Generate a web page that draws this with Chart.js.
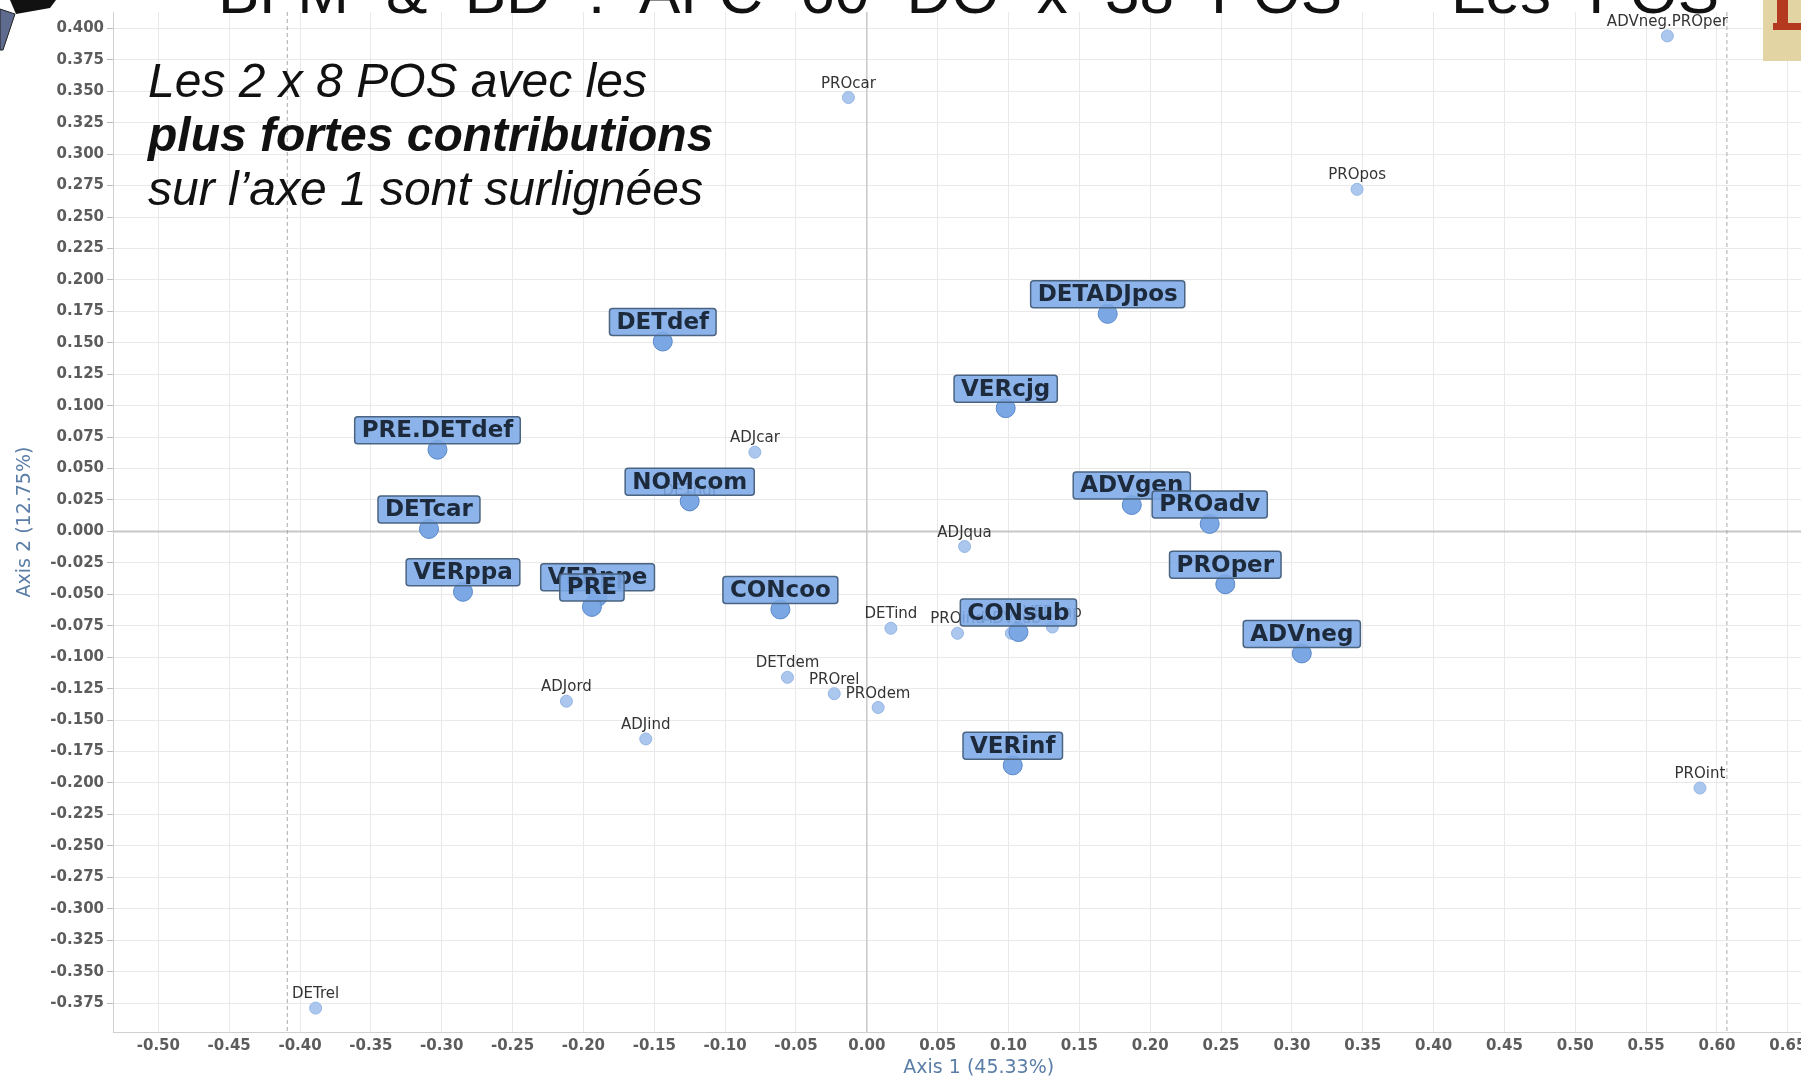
<!DOCTYPE html>
<html>
<head>
<meta charset="utf-8">
<title>AFC – POS</title>
<script src="https://cdn.jsdelivr.net/npm/chart.js"></script>
<style>
    body {
        margin: 0;
        width: 1801px;
        height: 1079px;
        overflow: hidden;
        background: #fff;
        position: relative;
        font-family: "Liberation Sans", Arial, sans-serif;
    }
    #wrap {
        position: absolute;
        left: 0;
        top: 0;
        width: 1855px;
        height: 1079px;
    }
    .slide-title {
        position: absolute;
        left: 218px;
        top: -39px;
        font-size: 62px;
        line-height: 62px;
        word-spacing: 20px;
        color: #111;
        white-space: nowrap;
    }
    .note {
        position: absolute;
        left: 148px;
        top: 54px;
        font-size: 48px;
        line-height: 54px;
        font-style: italic;
        color: #111;
        white-space: nowrap;
    }
    .note b { font-weight: bold; }
    .corner-right {
        position: absolute;
        left: 1763px;
        top: 0;
        width: 40px;
        height: 61px;
        background: #e3d4a4;
    }
    .corner-right .stem { position: absolute; left: 14px; top: 0; width: 11px; height: 30px; background: #b3391f; }
    .corner-right .foot { position: absolute; left: 10px; top: 23px; width: 30px; height: 7px; background: #b3391f; }
    .corner-left { position: absolute; left: 0; top: 0; }
</style>
</head>
<body>
<div id="wrap"><canvas id="afc"></canvas></div>

<div class="slide-title">BFM &amp; BD : AFC 60 DO x 38 POS – Les POS</div>
<div class="note">Les 2 x 8 POS avec les<br><b>plus fortes contributions</b><br>sur l’axe 1 sont surlignées</div>
<div class="corner-right"><div class="stem"></div><div class="foot"></div></div>
<svg class="corner-left" width="60" height="60">
    <polygon points="10,0 56,0 50,8 16,14" fill="#111"/>
    <polygon points="0,9 15,14 3,50 0,50" fill="#5e6b8e" stroke="#222" stroke-width="1"/>
</svg>

<script>
    // POS with the highest contributions on axis 1 (highlighted)
    const highNames = ['DETdef', 'PRE.DETdef', 'NOMcom', 'DETcar', 'VERppa', 'VERppe', 'PRE', 'CONcoo',
                       'DETADJpos', 'VERcjg', 'ADVgen', 'PROadv', 'PROper', 'CONsub', 'ADVneg', 'VERinf'];
    const highX = [-0.144, -0.303, -0.125, -0.309, -0.285, -0.190, -0.194, -0.061,
                   0.170, 0.098, 0.187, 0.242, 0.253, 0.107, 0.307, 0.103];
    const highY = [0.151, 0.065, 0.024, 0.002, -0.048, -0.052, -0.060, -0.062,
                   0.173, 0.098, 0.021, 0.006, -0.042, -0.080, -0.097, -0.186];

    // other POS
    const otherNames = ['PROcar', 'PROpos', 'ADVneg.PROper', 'ADJcar', 'DETndf', 'ADJqua', 'DETind', 'PROind',
                        'ADVsub', 'VERimp', 'DETdem', 'PROrel', 'PROdem', 'ADJord', 'ADJind', 'DETrel', 'PROint'];
    const otherX = [-0.013, 0.346, 0.565, -0.079, -0.125, 0.069, 0.017, 0.064,
                    0.102, 0.131, -0.056, -0.023, 0.008, -0.212, -0.156, -0.389, 0.588];
    const otherY = [0.345, 0.272, 0.394, 0.063, 0.021, -0.012, -0.077, -0.081,
                    -0.081, -0.076, -0.116, -0.129, -0.140, -0.135, -0.165, -0.379, -0.204];

    // tick labels
    const xTicks = [-0.50, -0.45, -0.40, -0.35, -0.30, -0.25, -0.20, -0.15, -0.10, -0.05, 0.00,
                    0.05, 0.10, 0.15, 0.20, 0.25, 0.30, 0.35, 0.40, 0.45, 0.50, 0.55, 0.60, 0.65];
    const yTicks = [0.400, 0.375, 0.350, 0.325, 0.300, 0.275, 0.250, 0.225, 0.200, 0.175, 0.150,
                    0.125, 0.100, 0.075, 0.050, 0.025, 0.000, -0.025, -0.050, -0.075, -0.100,
                    -0.125, -0.150, -0.175, -0.200, -0.225, -0.250, -0.275, -0.300, -0.325,
                    -0.350, -0.375];

    // dashed boundary lines on axis 1
    const boundX = [-0.409, 0.607];

    const tickFont = { family: '"DejaVu Sans", sans-serif', size: 15, weight: 'bold' };
    const titleFont = { family: '"DejaVu Sans", sans-serif', size: 19 };

    // zero axes + dashed bounds
    const refLines = {
        id: 'refLines',
        beforeDatasetsDraw(chart) {
            const { ctx, chartArea: a, scales: { x, y } } = chart;
            ctx.save();
            ctx.strokeStyle = '#c8c8c8';
            ctx.lineWidth = 2;
            const y0 = y.getPixelForValue(0);
            ctx.beginPath();
            ctx.moveTo(a.left, y0);
            ctx.lineTo(a.right, y0);
            ctx.stroke();
            const x0 = x.getPixelForValue(0);
            ctx.lineWidth = 1.5;
            ctx.beginPath();
            ctx.moveTo(x0, a.top);
            ctx.lineTo(x0, a.bottom);
            ctx.stroke();
            ctx.setLineDash([4, 3]);
            ctx.strokeStyle = '#aaaaaa';
            ctx.lineWidth = 1;
            boundX.forEach(v => {
                const px = x.getPixelForValue(v);
                ctx.beginPath();
                ctx.moveTo(px, a.top);
                ctx.lineTo(px, a.bottom);
                ctx.stroke();
            });
            ctx.restore();
        }
    };

    // text labels and highlighted boxes
    const pointLabels = {
        id: 'pointLabels',
        afterDatasetsDraw(chart) {
            const ctx = chart.ctx;
            ctx.save();
            ctx.textAlign = 'center';

            ctx.font = '15px "DejaVu Sans", sans-serif';
            ctx.fillStyle = '#333';
            ctx.textBaseline = 'alphabetic';
            chart.getDatasetMeta(1).data.forEach((p, i) => {
                ctx.fillText(otherNames[i], p.x, p.y - 10);
            });

            ctx.font = 'bold 23px "DejaVu Sans", sans-serif';
            chart.getDatasetMeta(0).data.forEach((p, i) => {
                const w = ctx.measureText(highNames[i]).width + 14;
                const h = 27;
                const bx = p.x - w / 2;
                const by = p.y - 6 - h;
                ctx.beginPath();
                ctx.roundRect(bx, by, w, h, 3);
                ctx.fillStyle = 'rgba(125, 170, 231, 0.88)';
                ctx.fill();
                ctx.strokeStyle = '#4a6482';
                ctx.lineWidth = 1.5;
                ctx.stroke();
                ctx.fillStyle = '#1c2a3b';
                ctx.textBaseline = 'middle';
                ctx.fillText(highNames[i], p.x, by + h / 2 + 1);
            });
            ctx.restore();
        }
    };

    new Chart(document.getElementById('afc'), {
        type: 'scatter',
        data: {
            datasets: [
                {
                    label: 'highlighted',
                    data: highX.map((v, i) => ({ x: v, y: highY[i] })),
                    pointRadius: 9.5,
                    backgroundColor: '#7ba8e4',
                    borderColor: '#5a88c9',
                    borderWidth: 1
                },
                {
                    label: 'others',
                    data: otherX.map((v, i) => ({ x: v, y: otherY[i] })),
                    pointRadius: 6,
                    backgroundColor: '#abc7ee',
                    borderColor: '#94b5e3',
                    borderWidth: 1
                }
            ]
        },
        options: {
            responsive: true,
            maintainAspectRatio: false,
            animation: false,
            layout: { padding: { top: 9, left: 0, right: 0, bottom: 0 } },
            plugins: {
                legend: { display: false },
                tooltip: { enabled: false }
            },
            scales: {
                x: {
                    type: 'linear',
                    position: 'bottom',
                    min: -0.532,
                    max: 0.69,
                    afterBuildTicks: s => { s.ticks = xTicks.map(v => ({ value: v })); },
                    afterFit: s => { s.height = 47; },
                    ticks: {
                        callback: v => v.toFixed(2),
                        font: tickFont,
                        color: '#5c5c5c',
                        padding: 5,
                        autoSkip: false,
                        maxRotation: 0
                    },
                    grid: { color: '#e9e9e9', drawTicks: false },
                    border: { color: '#cfcfcf' },
                    title: {
                        display: true,
                        text: 'Axis 1 (45.33%)',
                        color: '#5b7ea6',
                        font: titleFont,
                        padding: { top: 0, bottom: 0 }
                    }
                },
                y: {
                    type: 'linear',
                    min: -0.398,
                    max: 0.413,
                    afterBuildTicks: s => { s.ticks = yTicks.map(v => ({ value: v })); },
                    afterFit: s => { s.width = 113; },
                    ticks: {
                        callback: v => v.toFixed(3),
                        font: tickFont,
                        color: '#5c5c5c',
                        padding: 3,
                        autoSkip: false
                    },
                    grid: { color: '#e9e9e9', tickLength: 6, tickColor: '#bbbbbb' },
                    border: { color: '#cfcfcf' },
                    title: {
                        display: true,
                        text: 'Axis 2 (12.75%)',
                        color: '#5b7ea6',
                        font: titleFont,
                        padding: { top: 14, bottom: 0 }
                    }
                }
            }
        },
        plugins: [refLines, pointLabels]
    });
</script>
</body>
</html>
